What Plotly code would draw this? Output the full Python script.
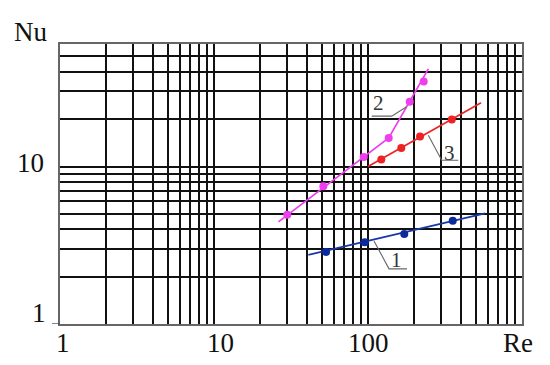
import math
import plotly.graph_objects as go

# ---------------- data ----------------
re_1 = [53.4, 95.2, 172, 355]
nu_1 = [2.87, 3.30, 3.73, 4.53]
fit1_re = [41, 575]
fit1_nu = [2.75, 5.04]

re_2 = [29.9, 51.3, 93.8, 136.3, 186.6, 230]
nu_2 = [4.94, 7.50, 11.5, 15.2, 25.8, 34.7]
fit2_re = [26.2, 136.3, 246.5]
fit2_nu = [4.45, 15.2, 41.7]

re_3 = [122, 164.5, 217.7, 350]
nu_3 = [11.1, 13.1, 15.5, 19.9]
fit3_re = [100, 542]
fit3_nu = [10.0, 25.4]

# curve labels with leader lines
lab_text = ["1", "2", "3"]
lab_re = [153.6, 116.7, 340.7]
lab_nu = [2.55, 25.3, 12.2]
lead_re = [[109.4, 136.9, 179.2], [178, 142.6, 105.7], [246.4, 301, 385.6]]
lead_nu = [[3.37, 2.24, 2.24], [24.0, 20.9, 20.9], [15.8, 10.96, 10.96]]

# axis ticks
x_major = [1, 10, 100, 1000]
x_labels = ["1", "10", "100", "Re"]
y_major = [1, 10]
y_labels = ["1", "10"]
grid_x = [m * 10 ** e for e in range(3) for m in range(1, 10)][1:]
grid_y = [m * 10 ** e for e in range(2) for m in range(1, 10)][1:]
grid_y = [v for v in grid_y if v < 60]

# ---------------- figure ----------------
BLUE = "#1838a8"
MAG = "#ee3fee"
RED = "#ee2222"
FONT = "Liberation Serif, Times New Roman, serif"
lg = math.log10

fig = go.Figure()
fig.add_trace(go.Scatter(x=fit1_re, y=fit1_nu, mode="lines", line=dict(color=BLUE, width=1.7)))
fig.add_trace(go.Scatter(x=re_1, y=nu_1, mode="markers", marker=dict(color="#0a2a9e", size=8)))
fig.add_trace(go.Scatter(x=fit2_re, y=fit2_nu, mode="lines", line=dict(color=MAG, width=1.7)))
fig.add_trace(go.Scatter(x=re_2, y=nu_2, mode="markers", marker=dict(color=MAG, size=8)))
fig.add_trace(go.Scatter(x=fit3_re, y=fit3_nu, mode="lines", line=dict(color=RED, width=1.7)))
fig.add_trace(go.Scatter(x=re_3, y=nu_3, mode="markers", marker=dict(color=RED, size=8)))

for lx, ly in zip(lead_re, lead_nu):
    fig.add_trace(go.Scatter(x=lx, y=ly, mode="lines", line=dict(color="#666666", width=1.1)))

annotations = []
for t, x, y in zip(lab_text, lab_re, lab_nu):
    annotations.append(dict(x=lg(x), y=lg(y), xref="x", yref="y", text=t, showarrow=False,
                            font=dict(family=FONT, size=21, color="#333333"),
                            xanchor="center", yanchor="middle"))

# x tick labels
x_shift = [3, 6, 0, -4]
for v, t, s in zip(x_major, x_labels, x_shift):
    annotations.append(dict(x=lg(v), y=-0.068, xref="x", yref="paper", text=t, showarrow=False,
                            font=dict(family=FONT, size=27, color="#111111"),
                            xanchor="center", yanchor="middle", xshift=s))
# y tick labels
y_x = [-0.0455, -0.0632]
y_shift = [11, 4]
for v, t, xx, s in zip(y_major, y_labels, y_x, y_shift):
    annotations.append(dict(x=xx, y=lg(v), xref="paper", yref="y", text=t, showarrow=False,
                            font=dict(family=FONT, size=27, color="#111111"),
                            xanchor="center", yanchor="middle", yshift=s))
annotations.append(dict(x=-0.0628, y=1.044, xref="paper", yref="paper", text="Nu", showarrow=False,
                        font=dict(family=FONT, size=27, color="#111111"),
                        xanchor="center", yanchor="middle"))

fig.update_layout(
    width=542, height=357, autosize=False,
    margin=dict(l=52, r=28, t=36, b=41, pad=0),
    paper_bgcolor="white", plot_bgcolor="white",
    showlegend=False,
    annotations=annotations,
    shapes=[dict(type="line", xref="paper", yref="y", x0=-8 / 462, x1=0, y0=lg(10), y1=lg(10),
                 line=dict(color="#444444", width=1.3))],
)
fig.update_xaxes(type="log", range=[0, 3], tickvals=grid_x, ticktext=[""] * len(grid_x),
                 showgrid=True, gridcolor="#111111", gridwidth=1.5, zeroline=False,
                 showline=True, mirror=True, linecolor="#666666", linewidth=1.6, ticks="")
fig.update_yaxes(type="log", range=[0, 1.7782], tickvals=grid_y, ticktext=[""] * len(grid_y),
                 showgrid=True, gridcolor="#111111", gridwidth=1.5, zeroline=False,
                 showline=True, mirror=True, linecolor="#666666", linewidth=1.6, ticks="")

fig.write_html("out.html")
